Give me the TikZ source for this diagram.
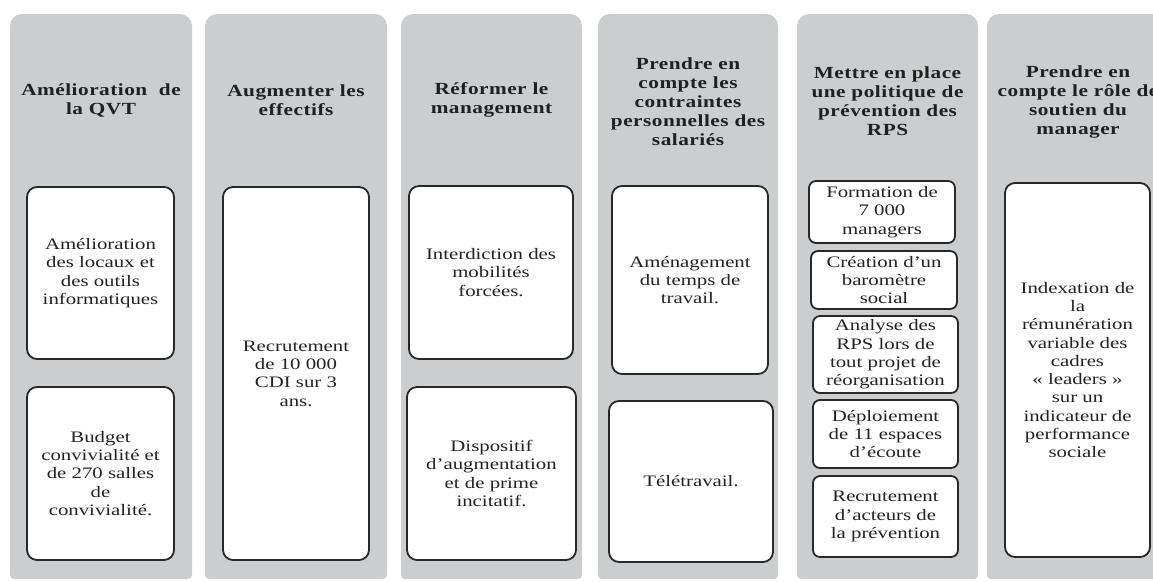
\documentclass[tikz,border=0pt]{standalone}
\usepackage{fontspec}
\setmainfont{Liberation Serif}
\newfontfamily\headfont{Liberation Serif}[FakeStretch=1.25, LetterSpace=3]
\newfontfamily\bodyfont{Liberation Serif}[FakeStretch=1.3]
\definecolor{pillargrey}{RGB}{204,205,207}
\definecolor{cardline}{RGB}{40,40,40}
\definecolor{headtxt}{RGB}{32,32,32}
\definecolor{bodytxt}{RGB}{35,35,35}
\newcommand\pillar[2]{%
  \fill[pillargrey, rounded corners=12pt] (#1,400) -- (#1,14) -- (#2,14) -- (#2,400)
    [rounded corners=4pt] -- (#2,579) -- (#1,579) -- cycle;}
\tikzset{
  head/.style={font=\headfont\bfseries\fontsize{17}{19}\selectfont, text=headtxt,
    align=center, inner sep=0pt},
  card/.style={draw=cardline, line width=1.8pt, fill=white, rounded corners=10pt,
    font=\bodyfont\fontsize{16}{18.3}\selectfont, text=bodytxt, align=center, inner sep=0pt},
  smallcard/.style={card, rounded corners=7pt},
}
\begin{document}
\begin{tikzpicture}[x=1pt, y=-1pt]
\useasboundingbox (0,0) rectangle (1153,581);
\clip (0,0) rectangle (1153,581);
\fill[white] (0,0) rectangle (1153,581);
% pillars
\pillar{10}{192}
\pillar{205}{387}
\pillar{401}{582}
\pillar{598}{778}
\pillar{797}{978}
\pillar{987}{1169}
% headers
\node[head] (h1) at (101,100) {Amélioration\ \ de\\la QVT};
\node[head] (h2) at (296,100) {Augmenter les\\effectifs};
\node[head] (h3) at (491.5,100) {Réformer le\\management};
\node[head] (h4) at (688,102) {Prendre en\\compte les\\contraintes\\personnelles des\\salariés};
\node[head] (h5) at (887.5,101) {Mettre en place\\une politique de\\prévention des\\RPS};
\node[head] (h6) at (1078,102) {Prendre en\\compte le rôle de\\soutien du\\manager};
% column 1
\node[card, minimum width=147pt, minimum height=172pt] (c1a) at (100.5,273)
  {Amélioration\\des locaux et\\des outils\\informatiques};
\node[card, minimum width=147pt, minimum height=173pt] (c1b) at (100.5,473.5)
  {Budget\\convivialité et\\de 270 salles\\de\\convivialité.};
% column 2
\node[card, minimum width=146pt, minimum height=373pt] (c2a) at (296,373.5)
  {Recrutement\\de 10 000\\CDI sur 3\\ans.};
% column 3
\node[card, minimum width=164pt, minimum height=173pt] (c3a) at (491,272.5)
  {Interdiction des\\mobilités\\forcées.};
\node[card, minimum width=169pt, minimum height=173pt] (c3b) at (491.5,473.5)
  {Dispositif\\d’augmentation\\et de prime\\incitatif.};
% column 4
\node[card, minimum width=156pt, minimum height=188pt] (c4a) at (690,280)
  {Aménagement\\du temps de\\travail.};
\node[card, minimum width=164pt, minimum height=161pt] (c4b) at (691,481.5)
  {Télétravail.};
% column 5
\node[smallcard, minimum width=146pt, minimum height=62pt] (c5a) at (882,212)
  {Formation de\\7 000\\managers};
\node[smallcard, minimum width=146pt, minimum height=58pt] (c5b) at (884,280)
  {Création d’un\\baromètre\\social};
\node[smallcard, minimum width=145pt, minimum height=77pt] (c5c) at (885.5,354.5)
  {Analyse des\\RPS lors de\\tout projet de\\réorganisation};
\node[smallcard, minimum width=145pt, minimum height=68pt] (c5d) at (885.5,434)
  {Déploiement\\de 11 espaces\\d’écoute};
\node[smallcard, minimum width=145pt, minimum height=81pt] (c5e) at (885.5,516.5)
  {Recrutement\\d’acteurs de\\la prévention};
% column 6
\node[card, minimum width=145pt, minimum height=374pt] (c6a) at (1077.5,370)
  {Indexation de\\la\\rémunération\\variable des\\cadres\\« leaders »\\sur un\\indicateur de\\performance\\sociale};
\end{tikzpicture}
\end{document}
